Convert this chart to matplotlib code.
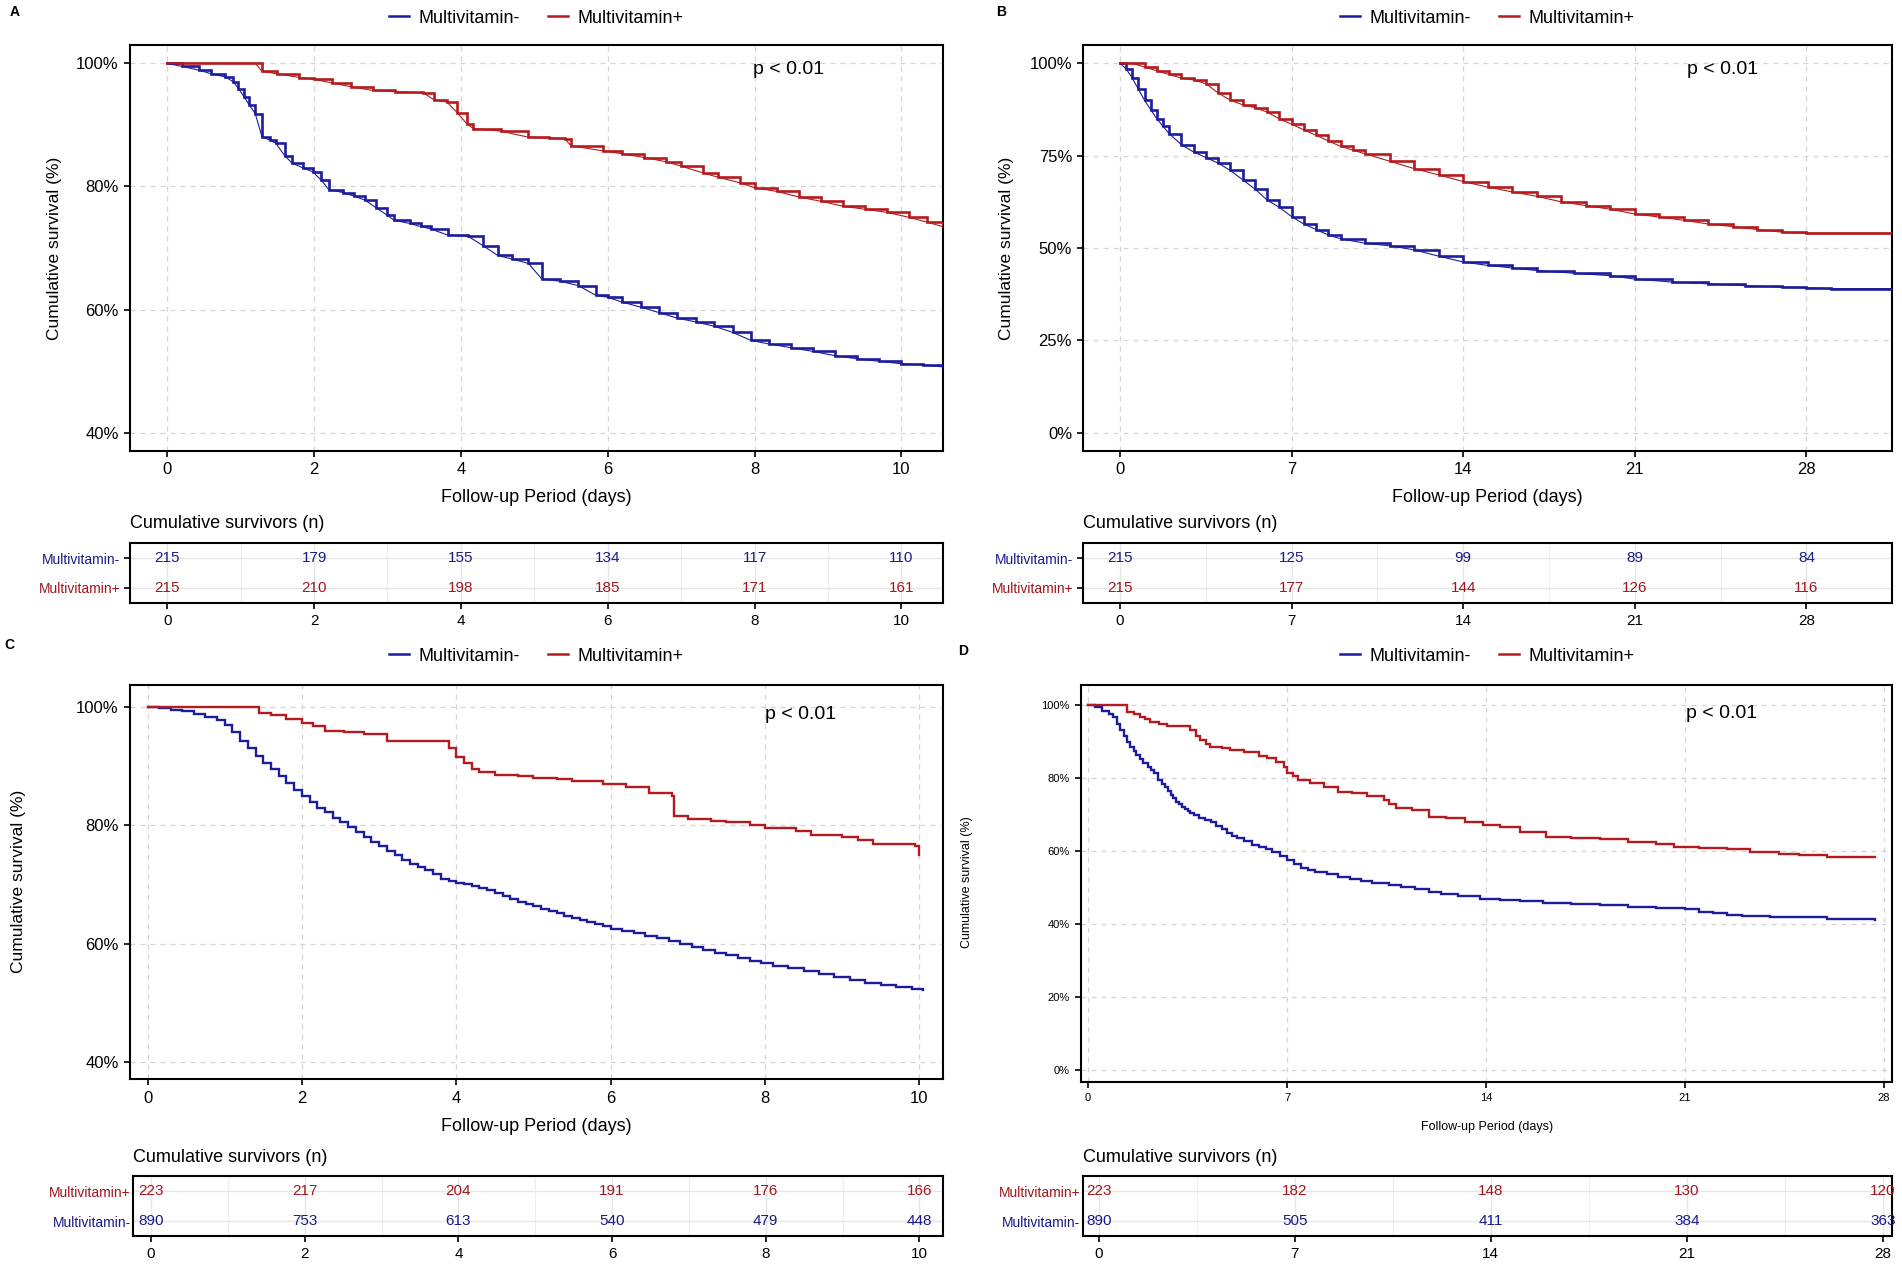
import matplotlib
matplotlib.use('Agg')
import matplotlib.pyplot as plt
from matplotlib.lines import Line2D
from matplotlib import font_manager

names = {f.name for f in font_manager.fontManager.ttflist}
NARROW = 'Liberation Sans Narrow' if 'Liberation Sans Narrow' in names else 'Liberation Sans'
REG = 'Liberation Sans'
plt.rcParams['font.family'] = [REG, 'DejaVu Sans']

BLUE = '#1C1C9C'
RED = '#B51A1E'
BLUE_T = '#1A1A8A'
RED_T = '#A0161C'
GRID = '#D4D4D4'

# ---------------- data ----------------
groups = ['Multivitamin-', 'Multivitamin+']

# Panel A
A_minus_t = [0, 0.2, 0.43, 0.6, 0.79, 0.9, 0.97, 1.05, 1.12, 1.2, 1.29, 1.4, 1.48, 1.6, 1.7, 1.85, 1.98, 2.1, 2.2, 2.4,
             2.55, 2.69, 2.85, 3.0, 3.09, 3.3, 3.45, 3.59, 3.82, 4.1, 4.3, 4.5, 4.7, 4.92, 5.1, 5.35, 5.6, 5.84, 6.0,
             6.2, 6.45, 6.7, 6.95, 7.2, 7.45, 7.7, 7.95, 8.2, 8.5, 8.8, 9.1, 9.4, 9.7, 10.0, 10.3, 10.56]
A_minus_s = [100, 99.5, 98.9, 98.3, 97.8, 97.0, 95.9, 94.5, 93.2, 91.8, 88.1, 87.5, 87.0, 85.0, 83.8, 83.0, 82.4, 81.0,
             79.5, 79.0, 78.4, 77.8, 76.5, 75.3, 74.5, 74.0, 73.5, 73.1, 72.1, 71.9, 70.4, 68.8, 68.2, 67.5, 65.0, 64.6,
             63.9, 62.3, 62.0, 61.2, 60.4, 59.5, 58.6, 58.0, 57.3, 56.3, 55.0, 54.4, 53.8, 53.2, 52.5, 52.0, 51.6, 51.2,
             51.0, 50.7]
A_plus_t = [0, 1.2, 1.29, 1.5, 1.8, 2.0, 2.25, 2.5, 2.8, 3.1, 3.49, 3.63, 3.81, 3.95, 4.08, 4.17, 4.54, 4.92, 5.2,
            5.42, 5.5, 5.93, 6.2, 6.5, 6.8, 7.0, 7.3, 7.5, 7.8, 8.0, 8.3, 8.6, 8.9, 9.2, 9.5, 9.8, 10.1, 10.35, 10.56]
A_plus_s = [100, 100, 98.7, 98.3, 97.7, 97.4, 96.8, 96.2, 95.6, 95.4, 95.2, 94.1, 93.7, 92.0, 90.2, 89.4, 89.0, 88.0,
            87.9, 87.7, 86.6, 85.8, 85.3, 84.7, 84.0, 83.3, 82.2, 81.5, 80.6, 79.8, 79.2, 78.3, 77.6, 76.8, 76.3, 75.8,
            75.0, 74.2, 73.5]
A_risk_times = [0, 2, 4, 6, 8, 10]
A_risk_minus = [215, 179, 155, 134, 117, 110]
A_risk_plus = [215, 210, 198, 185, 171, 161]

# Panel B
B_minus_t = [0, 0.25, 0.5, 0.75, 1.0, 1.25, 1.5, 1.75, 2.0, 2.5, 3.0, 3.5, 4.0, 4.5, 5.0, 5.5, 6.0, 6.5, 7.0, 7.5, 8.0,
             8.5, 9.0, 10.0, 11.0, 12.0, 13.0, 14.0, 15.0, 16.0, 17.0, 18.5, 20.0, 21.0, 22.5, 24.0, 25.5, 27.0, 28.0,
             29.0, 31.5]
B_minus_s = [100, 98.5, 96.0, 93.0, 90.0, 87.5, 85.0, 83.0, 81.0, 78.0, 76.0, 74.5, 73.0, 71.0, 68.5, 66.0, 63.0, 61.0,
             58.5, 56.5, 55.0, 53.5, 52.5, 51.3, 50.6, 49.5, 47.8, 46.2, 45.3, 44.6, 43.9, 43.2, 42.5, 41.6, 40.8, 40.3,
             39.8, 39.4, 39.2, 39.0, 39.0]
B_plus_t = [0, 0.5, 1, 1.5, 2, 2.5, 3, 3.5, 4, 4.5, 5, 5.5, 6, 6.5, 7, 7.5, 8, 8.5, 9, 9.5, 10, 11, 12, 13, 14, 15, 16,
            17, 18, 19, 20, 21, 22, 23, 24, 25, 26, 27, 28, 31.5]
B_plus_s = [100, 100, 99, 98, 97, 96, 95.5, 94.5, 92, 90, 88.8, 88, 86.8, 85, 83.5, 82, 80.5, 79, 77.5, 76.5, 75.5, 73.5,
            71.5, 69.8, 68, 66.5, 65.2, 64, 62.5, 61.5, 60.5, 59.2, 58.4, 57.5, 56.5, 55.8, 55, 54.3, 54, 54]
B_risk_times = [0, 7, 14, 21, 28]
B_risk_minus = [215, 125, 99, 89, 84]
B_risk_plus = [215, 177, 144, 126, 116]

# Panel C
C_minus_t = [0, 0.15, 0.3, 0.45, 0.6, 0.75, 0.9, 1.0, 1.1, 1.2, 1.3, 1.4, 1.5, 1.6, 1.7, 1.8, 1.9, 2.0, 2.1, 2.2, 2.3,
             2.4, 2.5, 2.6, 2.7, 2.8, 2.9, 3.0, 3.1, 3.2, 3.3, 3.4, 3.5, 3.6, 3.7, 3.8, 3.9, 4.0, 4.1, 4.2, 4.3, 4.4,
             4.5, 4.6, 4.7, 4.8, 4.9, 5.0, 5.1, 5.2, 5.3, 5.4, 5.5, 5.6, 5.7, 5.8, 5.9, 6.0, 6.15, 6.3, 6.45, 6.6,
             6.75, 6.9, 7.05, 7.2, 7.35, 7.5, 7.65, 7.8, 7.95, 8.1, 8.3, 8.5, 8.7, 8.9, 9.1, 9.3, 9.5, 9.7, 9.9, 10.05]
C_minus_s = [100, 99.8, 99.5, 99.3, 98.9, 98.4, 97.8, 97.0, 95.8, 94.3, 93.0, 91.8, 90.6, 89.5, 88.3, 87.2, 86.0, 85.0,
             84.0, 83.0, 82.2, 81.3, 80.6, 79.8, 78.8, 78.0, 77.2, 76.5, 75.7, 75.0, 74.2, 73.5, 73.0, 72.4, 71.7, 71.0,
             70.6, 70.2, 70.0, 69.8, 69.4, 69.0, 68.5, 68.0, 67.5, 67.0, 66.7, 66.3, 65.9, 65.5, 65.1, 64.7, 64.3, 64.0,
             63.7, 63.3, 62.9, 62.5, 62.1, 61.7, 61.3, 60.9, 60.4, 60.0, 59.4, 58.9, 58.4, 58.0, 57.6, 57.1, 56.7, 56.2,
             55.8, 55.3, 54.8, 54.3, 53.8, 53.4, 53.0, 52.6, 52.3, 52.2]
C_plus_t = [0, 1.25, 1.45, 1.6, 1.8, 2.0, 2.15, 2.3, 2.55, 2.8, 3.1, 3.4, 3.6, 3.9, 4.0, 4.1, 4.2, 4.3, 4.5, 4.8, 5.0,
            5.3, 5.5, 5.9, 6.2, 6.5, 6.8, 6.82, 7.0, 7.3, 7.5, 7.8, 8.0, 8.2, 8.4, 8.6, 9.0, 9.2, 9.4, 9.95, 10.0]
C_plus_s = [100, 100, 99.0, 98.6, 98.0, 97.3, 96.8, 96.0, 95.8, 95.5, 94.3, 94.2, 94.2, 93.0, 91.5, 90.5, 89.6, 89.0,
            88.5, 88.4, 88.0, 87.8, 87.5, 87.0, 86.5, 85.5, 85.0, 81.5, 81.0, 80.7, 80.5, 80.0, 79.6, 79.5, 79.0, 78.3,
            78.0, 77.5, 76.8, 76.5, 75.0]
C_risk_times = [0, 2, 4, 6, 8, 10]
C_risk_plus = [223, 217, 204, 191, 176, 166]
C_risk_minus = [890, 753, 613, 540, 479, 448]

# Panel D
D_minus_t = [0, 0.25, 0.5, 0.75, 0.89, 1.0, 1.12, 1.25, 1.37, 1.48, 1.6, 1.7, 1.82, 1.94, 2.1, 2.2, 2.3, 2.46, 2.6, 2.7,
             2.8, 2.9, 3.0, 3.09, 3.2, 3.3, 3.4, 3.5, 3.6, 3.71, 3.9, 4.1, 4.33, 4.5, 4.7, 4.9, 5.05, 5.23, 5.5, 5.75,
             6.0, 6.25, 6.48, 6.75, 7.0, 7.25, 7.5, 7.73, 8.0, 8.4, 8.8, 9.2, 9.6, 10.0, 10.6, 11.0, 11.5, 12.0, 12.4,
             13.0, 13.8, 14.5, 15.2, 16.0, 17.0, 18.0, 19.0, 20.0, 21.0, 21.5, 22.0, 22.5, 23.0, 24.0, 25.0, 26.0,
             27.0, 27.7]
D_minus_s = [100, 99.5, 98.5, 97.5, 96.9, 95.0, 93.1, 91.5, 90.0, 88.6, 87.4, 86.3, 85.2, 84.2, 83.0, 82.2, 81.5, 79.5,
             78.5, 77.5, 76.5, 75.5, 74.5, 73.5, 72.8, 72.2, 71.6, 71.0, 70.4, 69.8, 69.2, 68.6, 68.0, 67.0, 66.0, 65.0,
             64.2, 63.5, 62.7, 61.8, 61.2, 60.5, 59.8, 58.6, 57.5, 56.5, 55.5, 54.8, 54.3, 53.6, 52.9, 52.3, 51.7, 51.2,
             50.6, 50.2, 49.6, 48.8, 48.3, 47.7, 47.0, 46.6, 46.2, 45.8, 45.4, 45.1, 44.8, 44.4, 44.0, 43.4, 43.0,
             42.6, 42.3, 42.0, 41.8, 41.5, 41.3, 41.0]
D_plus_t = [0, 1.12, 1.36, 1.6, 1.83, 2.0, 2.18, 2.5, 2.77, 3.3, 3.6, 3.8, 3.95, 4.15, 4.3, 4.7, 5.0, 5.5, 6.0, 6.3, 6.6,
            6.9, 7.0, 7.2, 7.37, 7.8, 8.3, 8.8, 9.3, 9.8, 10.4, 10.6, 10.85, 11.4, 12.0, 12.6, 13.26, 13.9, 14.5, 15.2,
            16.1, 17.0, 18.0, 19.0, 20.0, 20.6, 21.5, 22.5, 23.3, 24.3, 25.0, 26.0, 27.0, 27.7]
D_plus_s = [100, 100, 98.3, 97.5, 96.9, 96.2, 95.5, 94.8, 94.2, 94.2, 93.2, 91.5, 90.5, 89.5, 88.5, 88.2, 87.8, 87.2,
            86.2, 85.5, 84.5, 83.0, 81.5, 80.6, 79.5, 78.8, 77.5, 76.3, 76.0, 75.2, 74.0, 73.0, 71.7, 71.2, 69.4, 69.0,
            68.0, 67.2, 66.7, 65.3, 63.9, 63.7, 63.3, 62.6, 62.0, 61.2, 60.8, 60.5, 59.8, 59.3, 59.0, 58.5, 58.3, 58.3]
D_risk_times = [0, 7, 14, 21, 28]
D_risk_plus = [223, 182, 148, 130, 120]
D_risk_minus = [890, 505, 411, 384, 363]

# ---------------- layout helpers ----------------
W, H = 1568.0, 1043.0
def rect(l, t, r, b):
    return [l / W, 1 - b / H, (r - l) / W, (b - t) / H]
def fx(px):
    return px / W
def fy(py):
    return 1 - py / H

fig = plt.figure(figsize=(19.02, 12.65), dpi=100)
fig.patch.set_facecolor('white')


def style_axes(ax, tick_fs):
    for sp in ax.spines.values():
        sp.set_linewidth(1.5)
        sp.set_color('black')
    ax.tick_params(axis='both', direction='out', length=4, width=1.2, labelsize=tick_fs, colors='black', pad=4)
    for lab in ax.get_xticklabels() + ax.get_yticklabels():
        lab.set_fontfamily(NARROW)


def km_panel(ax, curves, xlim, xticks, ylim, yticks, overlay, tick_fs, lw):
    ax.set_xlim(*xlim)
    ax.set_ylim(*ylim)
    ax.set_xticks(xticks)
    ax.set_yticks(yticks)
    ax.set_yticklabels([f'{v}%' for v in yticks])
    ax.set_xticklabels([str(v) for v in xticks])
    ax.grid(True, color=GRID, lw=0.9, ls=(0, (4, 4)))
    ax.set_axisbelow(True)
    for t, s, c in curves:
        ax.step(t, s, where='post', color=c, lw=lw, solid_joinstyle='miter', zorder=3)
        if overlay:
            ax.plot(t, s, color=c, lw=0.8, zorder=4)
    style_axes(ax, tick_fs)


def risk_table(ax, xlim, xticks, rows, minor, show_ticks, num_fs, lab_fs):
    ax.set_xlim(*xlim)
    ax.set_ylim(0.5, 2.5)
    ax.set_xticks(xticks)
    ax.set_xticklabels([str(v) for v in xticks])
    ax.set_xticks(minor, minor=True)
    ax.set_yticks([2, 1])
    ax.set_yticklabels([r[0] for r in rows])
    ax.grid(True, which='major', color='#E6E6E6', lw=1.0)
    ax.grid(True, which='minor', axis='x', color='#EEEEEE', lw=0.8)
    ax.set_axisbelow(True)
    for yv, (name, col, vals) in zip([2, 1], rows):
        for xv, n in zip(xticks, vals):
            ax.text(xv, yv, str(n), color=col, fontsize=num_fs, ha='center', va='center', family=NARROW)
    style_axes(ax, num_fs)
    ax.tick_params(axis='x', which='minor', length=0)
    ax.tick_params(axis='y', labelsize=lab_fs, length=4 if show_ticks else 0, pad=3 if show_ticks else 2)
    for lab, r in zip(ax.get_yticklabels(), rows):
        lab.set_color(r[1])


def legend(cx, cy):
    handles = [Line2D([], [], color=BLUE, lw=1.8), Line2D([], [], color=RED, lw=1.8)]
    fig.legend(handles, groups, loc='center', bbox_to_anchor=(cx, cy), ncol=2, frameon=False,
               fontsize=13, handlelength=1.1, handletextpad=0.5, columnspacing=1.6)

# ---------------- panel A ----------------
axA = fig.add_axes(rect(107, 37, 777, 372))
km_panel(axA, [(A_minus_t, A_minus_s, BLUE), (A_plus_t, A_plus_s, RED)], (-0.51, 10.56), A_risk_times,
         (37, 103), [40, 60, 80, 100], True, 12, 1.9)
axA.text(0.81, 0.94, 'p < 0.01', transform=axA.transAxes, ha='center', va='center', fontsize=14)
fig.text(fx(45), fy(205), 'Cumulative survival (%)', rotation=90, ha='center', va='center', fontsize=12.5)
fig.text(fx(442), fy(410), 'Follow-up Period (days)', ha='center', va='center', fontsize=13, family=NARROW)
legend(fx(442), fy(15))
fig.text(fx(12), fy(10), 'A', fontsize=10, fontweight='bold', ha='center', va='center')

tA = fig.add_axes(rect(107, 448, 777, 497))
risk_table(tA, (-0.51, 10.56), A_risk_times,
           [(groups[0], BLUE_T, A_risk_minus), (groups[1], RED_T, A_risk_plus)], [1, 3, 5, 7, 9], True, 11, 10)
fig.text(fx(107), fy(432), 'Cumulative survivors (n)', ha='left', va='center', fontsize=13, family=NARROW)

# ---------------- panel B ----------------
axB = fig.add_axes(rect(893, 37, 1560, 372))
km_panel(axB, [(B_minus_t, B_minus_s, BLUE), (B_plus_t, B_plus_s, RED)], (-1.5, 31.5), B_risk_times,
         (-5, 105), [0, 25, 50, 75, 100], True, 12, 1.9)
axB.text(0.79, 0.94, 'p < 0.01', transform=axB.transAxes, ha='center', va='center', fontsize=14)
fig.text(fx(830), fy(205), 'Cumulative survival (%)', rotation=90, ha='center', va='center', fontsize=12.5)
fig.text(fx(1226), fy(410), 'Follow-up Period (days)', ha='center', va='center', fontsize=13, family=NARROW)
legend(fx(1226), fy(15))
fig.text(fx(825), fy(10), 'B', fontsize=10, fontweight='bold', ha='center', va='center')

tB = fig.add_axes(rect(893, 448, 1560, 497))
risk_table(tB, (-1.5, 31.5), B_risk_times,
           [(groups[0], BLUE_T, B_risk_minus), (groups[1], RED_T, B_risk_plus)], [3.5, 10.5, 17.5, 24.5], True, 11, 10)
fig.text(fx(893), fy(432), 'Cumulative survivors (n)', ha='left', va='center', fontsize=13, family=NARROW)

# ---------------- panel C ----------------
axC = fig.add_axes(rect(107, 565, 777, 890))
km_panel(axC, [(C_minus_t, C_minus_s, BLUE), (C_plus_t, C_plus_s, RED)], (-0.23, 10.3), C_risk_times,
         (37, 103.7), [40, 60, 80, 100], False, 12, 1.7)
axC.text(0.825, 0.926, 'p < 0.01', transform=axC.transAxes, ha='center', va='center', fontsize=14)
fig.text(fx(15), fy(727), 'Cumulative survival (%)', rotation=90, ha='center', va='center', fontsize=12.5)
fig.text(fx(442), fy(929), 'Follow-up Period (days)', ha='center', va='center', fontsize=13, family=NARROW)
legend(fx(442), fy(541))
fig.text(fx(8), fy(532), 'C', fontsize=10, fontweight='bold', ha='center', va='center')

tC = fig.add_axes(rect(110, 970, 777, 1019))
risk_table(tC, (-0.23, 10.3), C_risk_times,
           [(groups[1], RED_T, C_risk_plus), (groups[0], BLUE_T, C_risk_minus)], [1, 3, 5, 7, 9], False, 11, 10)
fig.text(fx(110), fy(954), 'Cumulative survivors (n)', ha='left', va='center', fontsize=13, family=NARROW)

# ---------------- panel D ----------------
axD = fig.add_axes(rect(891, 565, 1560, 892))
km_panel(axD, [(D_minus_t, D_minus_s, BLUE), (D_plus_t, D_plus_s, RED)], (-0.26, 28.3), D_risk_times,
         (-3.3, 105.5), [0, 20, 40, 60, 80, 100], False, 8, 1.7)
axD.text(0.79, 0.93, 'p < 0.01', transform=axD.transAxes, ha='center', va='center', fontsize=14)
fig.text(fx(797), fy(727), 'Cumulative survival (%)', rotation=90, ha='center', va='center', fontsize=9)
fig.text(fx(1226), fy(929), 'Follow-up Period (days)', ha='center', va='center', fontsize=9)
legend(fx(1226), fy(541))
fig.text(fx(794), fy(537), 'D', fontsize=10, fontweight='bold', ha='center', va='center')

tD = fig.add_axes(rect(893, 970, 1560, 1019))
risk_table(tD, (-0.55, 28.33), D_risk_times,
           [(groups[1], RED_T, D_risk_plus), (groups[0], BLUE_T, D_risk_minus)], [3.5, 10.5, 17.5, 24.5], False, 11, 10)
fig.text(fx(893), fy(954), 'Cumulative survivors (n)', ha='left', va='center', fontsize=13, family=NARROW)

fig.savefig('out.png', dpi=100, facecolor='white')
